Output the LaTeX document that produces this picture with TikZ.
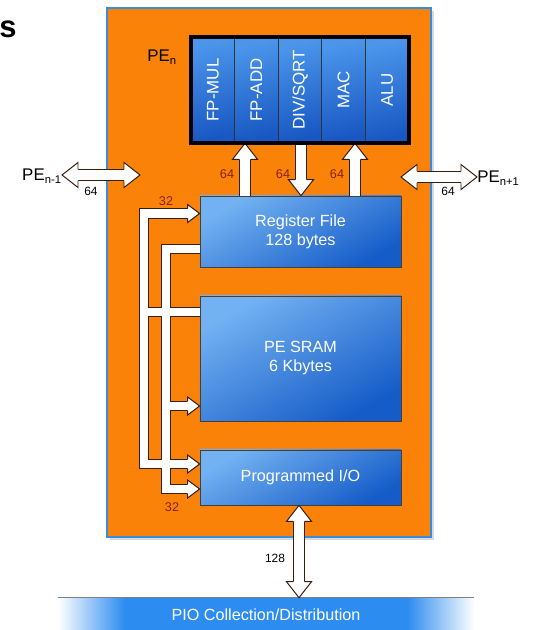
\documentclass[tikz,border=0pt]{standalone}
\usepackage{fontspec}
\setmainfont{Liberation Sans}
\usepackage{graphicx}
\usetikzlibrary{calc,shadows}

\definecolor{peorange}{RGB}{250,130,8}
\definecolor{peblue}{RGB}{55,140,225}
\definecolor{boxlight}{RGB}{115,178,242}
\definecolor{boxdark}{RGB}{22,92,200}
\definecolor{collight}{RGB}{75,150,235}
\definecolor{coldark}{RGB}{25,88,195}
\definecolor{barblue}{RGB}{45,140,240}
\definecolor{busedge}{RGB}{55,30,15}
\definecolor{buslabel}{RGB}{135,35,10}

\pgfdeclarehorizontalshading{barfade}{100bp}{color(0bp)=(white); color(25bp)=(white); color(33bp)=(barblue); color(67bp)=(barblue); color(75bp)=(white); color(100bp)=(white)}

\begin{document}
\begin{tikzpicture}[x=0.025cm,y=-0.025cm,font=\fontsize{11.5}{13.5}\selectfont,
  pebox/.style={draw=black!75,line width=0.5pt,top color=boxlight,bottom color=boxdark,shading angle=30,
    text=white,align=center,minimum width=5.025cm,inner sep=0pt,
    drop shadow={shadow xshift=1pt,shadow yshift=-1pt,opacity=0.4}},
  fucol/.style={draw=black!80,line width=0.5pt,top color=collight,bottom color=coldark,shading angle=15,
    text=white,font=\fontsize{12}{14}\selectfont,minimum width=1.09cm,minimum height=2.65cm,inner sep=0pt},
  busw/.style={draw=white,line width=6.2pt,line join=miter,
    preaction={draw=busedge,line width=7.6pt,line join=miter}},
  fatw/.style={draw=white,line width=7.4pt,
    preaction={draw=busedge,line width=8.8pt}},
  pics/bustip/.style={code={\filldraw[fill=white,draw=busedge,line width=0.7pt,line join=miter]
    (-12,4.85) -- (-12,9) -- (0,0) -- (-12,-9) -- (-12,-4.85);}},
  pics/fattip/.style={code={\filldraw[fill=white,draw=busedge,line width=0.7pt,line join=miter]
    (-16,5.7) -- (-16,12.5) -- (0,0) -- (-16,-12.5) -- (-16,-5.7);}},
  tag/.style={font=\fontsize{9}{10}\selectfont,text=buslabel,inner sep=1pt},
  outtag/.style={font=\fontsize{8.5}{10}\selectfont,inner sep=1pt}]
\useasboundingbox (0,0) rectangle (532,630);

% title fragment
\node[font=\fontsize{22}{24}\selectfont\bfseries,anchor=base west,inner sep=0pt] (title) at (-1,38) {s};

% processing element frame
\draw[draw=peblue,line width=1.4pt,fill=peorange,
  drop shadow={shadow xshift=2pt,shadow yshift=-2pt,opacity=0.3}] (107,8) rectangle (431,537);
\node[font=\fontsize{12}{14}\selectfont] (pen) at (162,57) {PE\textsubscript{n}};

% blocks
\node[pebox,minimum height=1.775cm] (regfile) at (300.5,231.5) {Register File\\128 bytes};
\node[pebox,minimum height=3.125cm] (sram) at (300.5,358.5) {PE SRAM\\6 Kbytes};
\node[pebox,minimum height=1.375cm] (pio) at (300.5,477.5) {Programmed I/O};
\foreach \lab [count=\i] in {FP-MUL,FP-ADD,DIV/SQRT,MAC,ALU}
  \node[fucol] (fu\i) at ({191+43.6*(\i-0.5)},90) {\rotatebox{90}{\lab}};

% internal buses
\coordinate (aTop) at (144,213.5);
\coordinate (aMid) at (0,312);
\coordinate (aBot) at (144,464);
\coordinate (bTop) at (166,249);
\coordinate (bMid) at (0,406);
\coordinate (bBot) at (166,489);
\draw[busw] ($(regfile.west|-aTop)+(-11,0)$) -- (aTop) -- (aBot) -- ($(pio.west|-aBot)+(-11,0)$)
  (sram.west|-aMid) -- (aTop|-aMid)
  (regfile.west|-bTop) -- (bTop) -- (bBot) -- ($(pio.west|-bBot)+(-11,0)$)
  (bTop|-bMid) -- ($(sram.west|-bMid)+(-11,0)$);
\foreach \p in {regfile.west|-aTop,pio.west|-aBot,pio.west|-bBot,sram.west|-bMid}
  \pic at (\p) {bustip};
\node[tag] (w1) at (166,201) {32};
\node[tag] (w2) at (172,507) {32};

% function units <-> register file
\coordinate (c1) at (245,0);
\coordinate (c2) at (301,0);
\coordinate (c3) at (355,0);
\draw[fatw] (regfile.north-|c1) -- ($(fu2.south-|c1)+(0,15)$);
\draw[fatw] (fu3.south-|c2) -- ($(regfile.north-|c2)+(0,-15)$);
\draw[fatw] (regfile.north-|c3) -- ($(fu4.south-|c3)+(0,15)$);
\pic[rotate=90] at (fu2.south-|c1) {fattip};
\pic[rotate=-90] at (regfile.north-|c2) {fattip};
\pic[rotate=90] at (fu4.south-|c3) {fattip};
\draw[line width=2.8pt] (fu1.north west) rectangle (fu5.south east);
\node[tag] (w3) at (227,174) {64};
\node[tag] (w4) at (283,174) {64};
\node[tag] (w5) at (337,174) {64};

% neighbour links
\node[font=\fontsize{12}{14}\selectfont,anchor=base east,inner sep=0pt] (pel) at (62,181) {PE\textsubscript{n-1}};
\node[font=\fontsize{12}{14}\selectfont,anchor=base west,inner sep=0pt] (per) at (477,183) {PE\textsubscript{n+1}};
\coordinate (lrow) at (0,175);
\coordinate (lend) at (140,175);
\coordinate (rrow) at (0,177);
\coordinate (rend) at (401,177);
\draw[fatw] ($(pel.east|-lrow)+(15,0)$) -- ($(lend)+(-15,0)$);
\pic[rotate=180] at (pel.east|-lrow) {fattip};
\pic at (lend) {fattip};
\draw[fatw] ($(rend)+(15,0)$) -- ($(per.west|-rrow)+(-15,0)$);
\pic[rotate=180] at (rend) {fattip};
\pic at (per.west|-rrow) {fattip};
\node[outtag] (w6) at (91,191) {64};
\node[outtag] (w7) at (448,191) {64};

% collection / distribution bar
\node[shade,shading=barfade,minimum width=10.4cm,minimum height=0.85cm,inner sep=0pt,text=white] (bar) at (266,615) {PIO Collection/Distribution};
\draw[gray,line width=0.8pt] (bar.north west) -- (bar.north east);
\coordinate (c4) at (299,0);
\draw[fatw] ($(pio.south-|c4)+(0,15)$) -- ($(bar.north-|c4)+(0,-15)$);
\pic[rotate=90] at (pio.south-|c4) {fattip};
\pic[rotate=-90] at (bar.north-|c4) {fattip};
\node[outtag] (w8) at (275,558) {128};
\end{tikzpicture}
\end{document}
